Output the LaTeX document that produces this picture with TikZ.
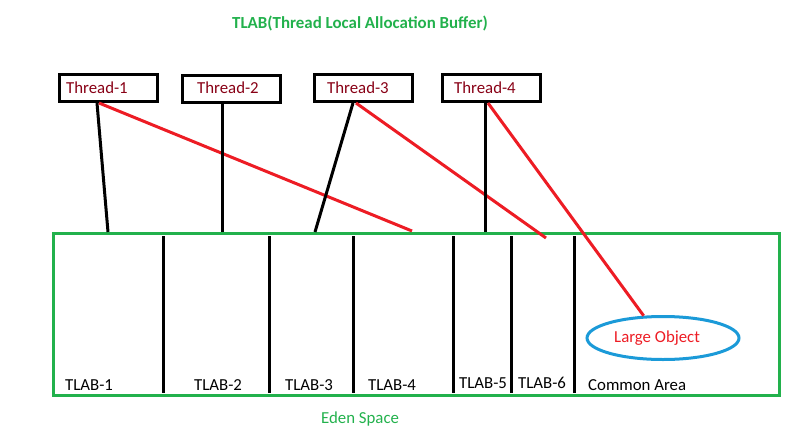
\documentclass[tikz,border=0pt]{standalone}
\usepackage{fontspec}
\setmainfont{Carlito}
\usetikzlibrary{shapes.geometric}
\definecolor{pgreen}{RGB}{34,177,76}
\definecolor{pred}{RGB}{237,28,36}
\definecolor{pmaroon}{RGB}{136,0,21}
\definecolor{pblue}{RGB}{27,154,216}
\begin{document}
\begin{tikzpicture}[x=1pt,y=-1pt,
  threadbox/.style={draw=black,line width=3pt,minimum width=98pt,minimum height=27pt,inner sep=0pt},
  threadtxt/.style={text=pmaroon,font=\fontsize{16.8}{18}\selectfont,inner sep=0pt,anchor=base west},
  tlabtxt/.style={text=black,font=\fontsize{16.8}{18}\selectfont,inner sep=0pt,anchor=base west},
  blkline/.style={line width=3pt,black},
  redline/.style={line width=3pt,pred},
  partline/.style={line width=3pt,black}]
\useasboundingbox (0,0) rectangle (800,431);
% title
\node[text=pgreen,font=\bfseries\fontsize{16.9}{18}\selectfont,inner sep=0pt,anchor=base west] (title) at (232,28) {TLAB(Thread Local Allocation Buffer)};
% thread boxes
\node[threadbox] (t1) at (108,88) {};
\node[threadbox] (t2) at (231.5,88.5) {};
\node[threadbox] (t3) at (363.5,88) {};
\node[threadbox] (t4) at (491.5,88) {};
\node[threadtxt] (t1txt) at (66,93) {Thread-1};
\node[threadtxt] (t2txt) at (197,93) {Thread-2};
\node[threadtxt] (t3txt) at (327,93) {Thread-3};
\node[threadtxt] (t4txt) at (454,93) {Thread-4};
% eden space
\node[draw=pgreen,line width=3pt,minimum width=726pt,minimum height=162pt,inner sep=0pt] (eden) at (416.5,314.5) {};
% partitions
\foreach \x in {163,269,353,453,511,574} \draw[partline] (\x,236) -- (\x,393);
% labels
\node[tlabtxt] (l1) at (65,390) {TLAB-1};
\node[tlabtxt] (l2) at (194,390) {TLAB-2};
\node[tlabtxt] (l3) at (285,390) {TLAB-3};
\node[tlabtxt] (l4) at (368,390) {TLAB-4};
\node[tlabtxt] (l5) at (459,388) {TLAB-5};
\node[tlabtxt] (l6) at (518,388) {TLAB-6};
\node[tlabtxt] (lc) at (588,390) {Common Area};
% large object
\node[draw=pblue,line width=3pt,ellipse,minimum width=152pt,minimum height=43pt,inner sep=0pt] (lo) at (663,338) {};
\node[text=pred,font=\fontsize{16.8}{18}\selectfont,inner sep=0pt,anchor=base west] (lotxt) at (614,342) {Large Object};
\node[text=pgreen,font=\fontsize{16.8}{18}\selectfont,inner sep=0pt,anchor=base west] (edentxt) at (321,423) {Eden Space};
% connector end points
\coordinate (e1) at (108,232);
\coordinate (e1r) at (412,231);
\coordinate (e2) at (222,232);
\coordinate (e3) at (315,232);
\coordinate (e3r) at (546,238);
\coordinate (e4) at (485,232);
% connectors
\draw[blkline] ([xshift=-11pt]t1.south) -- (e1);
\draw[redline] ([xshift=-9pt]t1.south) -- (e1r);
\draw[blkline] ([xshift=-9.5pt]t2.south) -- (e2);
\draw[blkline] ([xshift=-10.5pt]t3.south) -- (e3);
\draw[redline] ([xshift=-7.5pt]t3.south) -- (e3r);
\draw[blkline] ([xshift=-6.5pt]t4.south) -- (e4);
\draw[redline] ([xshift=-3.5pt]t4.south) -- (lo.131);
\end{tikzpicture}
\end{document}
